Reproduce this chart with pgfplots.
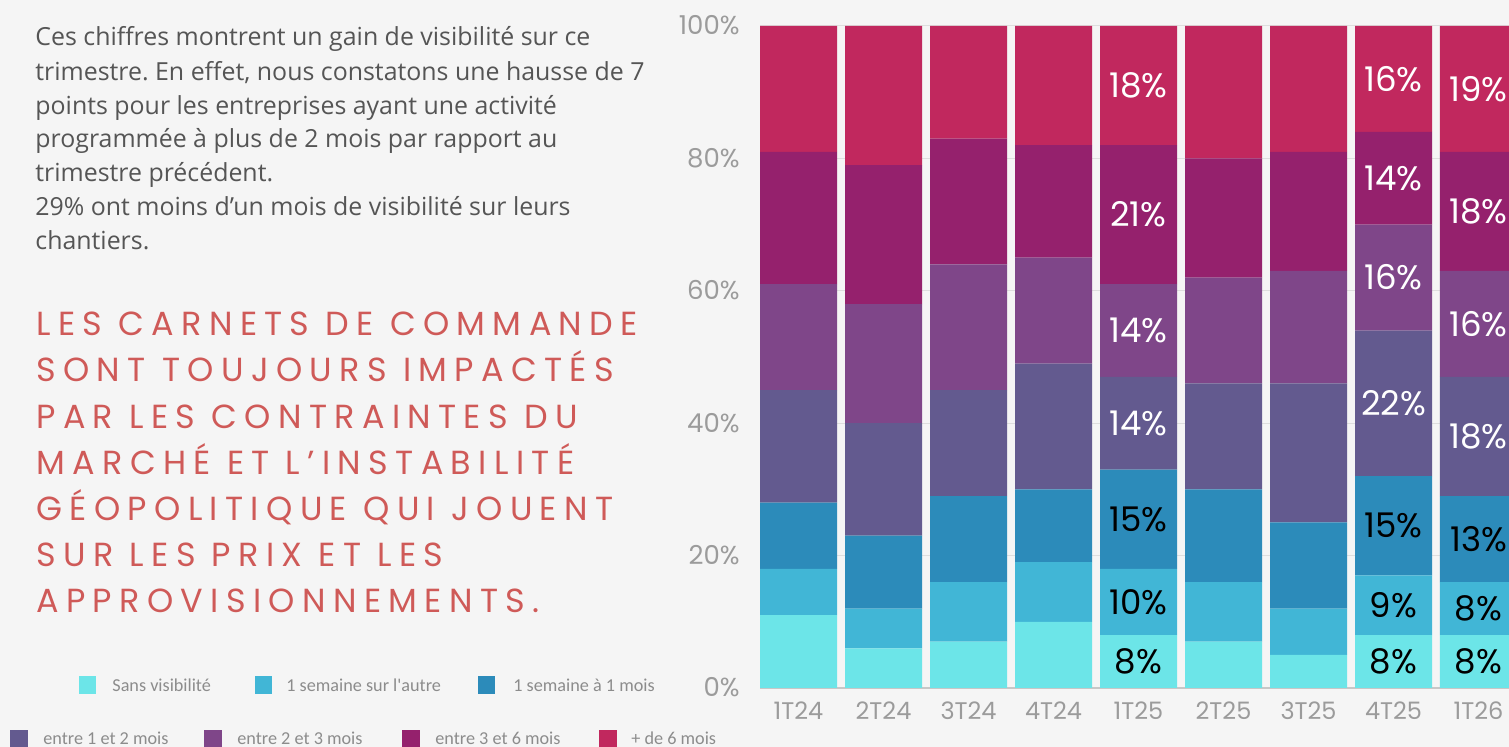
\documentclass[border=0pt]{standalone}
\usepackage{fontspec}
\usepackage{pgfplots}
\usepackage{pgfplotstable}
\pgfplotsset{compat=1.18}
\setmainfont{Open Sans}
\newfontfamily\numfont{Poppins}
\newfontfamily\titlefont[LetterSpace=22]{Poppins}
\newfontfamily\legfont{Carlito}
\frenchspacing

\definecolor{bg}{HTML}{F5F5F5}
\definecolor{c1}{HTML}{6CE5E8}
\definecolor{c2}{HTML}{41B6D6}
\definecolor{c3}{HTML}{2C8BBA}
\definecolor{c4}{HTML}{635A8F}
\definecolor{c5}{HTML}{7F4689}
\definecolor{c6}{HTML}{95216D}
\definecolor{c7}{HTML}{C1285E}
\definecolor{titlered}{HTML}{CF5A58}
\definecolor{txtgray}{HTML}{555555}
\definecolor{tickgray}{HTML}{9B9B9B}
\definecolor{leggray}{HTML}{8C8C8C}

% share of companies by order-book visibility, per quarter (percent)
\pgfplotstableread{
q a  b  c  d  e  f  g  la      lb       lc       ld       le       lf       lg
0 11 7  10 17 16 20 19 {}      {}       {}       {}       {}       {}       {}
1 6  6  11 17 18 21 21 {}      {}       {}       {}       {}       {}       {}
2 7  9  13 16 19 19 17 {}      {}       {}       {}       {}       {}       {}
3 10 9  11 19 16 17 18 {}      {}       {}       {}       {}       {}       {}
4 8  10 15 14 14 21 18 {8\%}   {10\%}   {15\%}   {14\%}   {14\%}   {21\%}   {18\%}
5 7  9  14 16 16 18 20 {}      {}       {}       {}       {}       {}       {}
6 5  7  13 21 17 18 19 {}      {}       {}       {}       {}       {}       {}
7 8  9  15 22 16 14 16 {8\%}   {9\%}    {15\%}   {22\%}   {16\%}   {14\%}   {16\%}
8 8  8  13 18 16 18 19 {8\%}   {8\%}    {13\%}   {18\%}   {16\%}   {18\%}   {19\%}
}\visib

% stacked labels with anchor=center already sit mid-segment
\pgfplotsset{
  seg/.style n args={2}{
    fill=#1, draw=none,
    every node near coord/.append style={text=#2, anchor=center,
      font=\numfont\fontsize{17}{17}\selectfont},
  },
}

\begin{document}
\begin{tikzpicture}
\path[use as bounding box, fill=bg] (0,0) rectangle (754.5pt,-373.5pt);

% left text
\begin{scope}[every node/.style={anchor=base west, inner sep=0pt, text=txtgray,
    font=\fontsize{12.45}{14}\selectfont}]
\node at (17.5pt,-23pt) {Ces chiffres montrent un gain de visibilité sur ce};
\node at (17.5pt,-40.5pt) {trimestre. En effet, nous constatons une hausse de 7};
\node at (17.5pt,-57.25pt) {points pour les entreprises ayant une activité};
\node at (17.5pt,-74pt) {programmée à plus de 2 mois par rapport au};
\node at (17.5pt,-91pt) {trimestre précédent.};
\node at (17.5pt,-108pt) {29\% ont moins d’un mois de visibilité sur leurs};
\node at (17.5pt,-125pt) {chantiers.};
\end{scope}

\begin{scope}[every node/.style={anchor=base west, inner sep=0pt, text=titlered,
    font=\titlefont\fontsize{16.7}{20}\selectfont}]
\node at (18pt,-168pt) {LES CARNETS DE COMMANDE};
\node at (18pt,-191pt) {SONT TOUJOURS IMPACTÉS};
\node at (18pt,-214.3pt) {PAR LES CONTRAINTES DU};
\node at (18pt,-237.5pt) {MARCHÉ ET L’INSTABILITÉ};
\node at (18pt,-260.3pt) {GÉOPOLITIQUE QUI JOUENT};
\node at (18pt,-283.3pt) {SUR LES PRIX ET LES};
\node at (18pt,-306.3pt) {APPROVISIONNEMENTS.};
\end{scope}

% legend
\begin{scope}[every node/.style={anchor=west, inner sep=0pt, text=leggray,
    font=\legfont\fontsize{9.1}{10}\selectfont}]
\fill[c1] (39.5pt,-338.25pt) rectangle ++(8.5pt,-8.5pt);
\node at (56pt,-342.5pt) {Sans visibilité};
\fill[c2] (127.5pt,-338.25pt) rectangle ++(8.5pt,-8.5pt);
\node at (143pt,-342.5pt) {1 semaine sur l'autre};
\fill[c3] (239pt,-338.25pt) rectangle ++(8.5pt,-8.5pt);
\node at (256.5pt,-342.5pt) {1 semaine à 1 mois};
\fill[c4] (5pt,-365pt) rectangle ++(9pt,-9pt);
\node at (21.5pt,-369pt) {entre 1 et 2 mois};
\fill[c5] (102pt,-365pt) rectangle ++(9pt,-9pt);
\node at (118.5pt,-369pt) {entre 2 et 3 mois};
\fill[c6] (201pt,-365pt) rectangle ++(9pt,-9pt);
\node at (217.5pt,-369pt) {entre 3 et 6 mois};
\fill[c7] (299.5pt,-365pt) rectangle ++(9pt,-9pt);
\node at (315.5pt,-369pt) {+ de 6 mois};
\end{scope}

\begin{axis}[
  at={(380pt,-344pt)}, anchor=south west,
  scale only axis, width=374.5pt, height=331pt,
  ybar stacked, bar width=0.906,
  xmin=-0.453, xmax=8.359, ymin=0, ymax=100,
  enlargelimits=false,
  axis x line*=bottom, axis y line*=left,
  x axis line style={draw=black!22, line width=1pt},
  y axis line style={draw=none},
  tick style={draw=none},
  xtick={0,...,8},
  xticklabels={1T24,2T24,3T24,4T24,1T25,2T25,3T25,4T25,1T26},
  ytick={0,20,40,60,80,100},
  yticklabel={\pgfmathprintnumber{\tick}\%},
  /pgf/number format/assume math mode=true,
  xticklabel style={font=\numfont\fontsize{12}{12}\selectfont, text=tickgray,
    anchor=base, inner sep=0pt, yshift=-16pt},
  yticklabel style={font=\numfont\fontsize{13}{12}\selectfont, text=tickgray,
    anchor=base east, inner sep=0pt, xshift=-10pt, yshift=-4.5pt},
  ymajorgrids, major grid style={draw=black!13, line width=0.5pt},
  point meta=explicit symbolic,
  nodes near coords={\pgfplotspointmeta},
]
\addplot[seg={c1}{black}] table[x=q, y=a, meta=la] {\visib};
\addplot[seg={c2}{black}] table[x=q, y=b, meta=lb] {\visib};
\addplot[seg={c3}{black}] table[x=q, y=c, meta=lc] {\visib};
\addplot[seg={c4}{white}] table[x=q, y=d, meta=ld] {\visib};
\addplot[seg={c5}{white}] table[x=q, y=e, meta=le] {\visib};
\addplot[seg={c6}{white}] table[x=q, y=f, meta=lf] {\visib};
\addplot[seg={c7}{white}] table[x=q, y=g, meta=lg] {\visib};
\end{axis}
\end{tikzpicture}
\end{document}
